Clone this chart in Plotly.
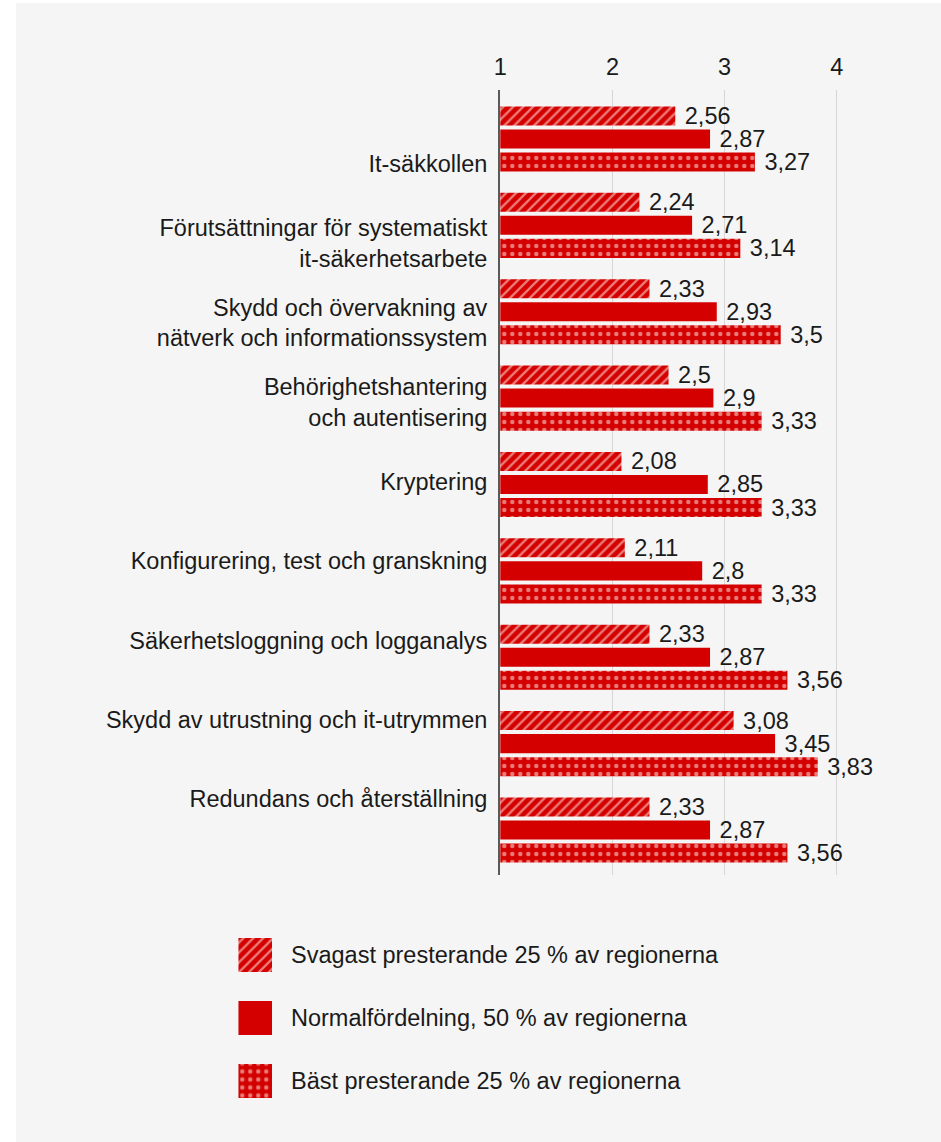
import plotly.graph_objects as go

# --- data -------------------------------------------------------------------
categories = [
    "It-säkkollen",
    "Förutsättningar för systematiskt<br>it-säkerhetsarbete",
    "Skydd och övervakning av<br>nätverk och informationssystem",
    "Behörighetshantering<br>och autentisering",
    "Kryptering",
    "Konfigurering, test och granskning",
    "Säkerhetsloggning och logganalys",
    "Skydd av utrustning och it-utrymmen",
    "Redundans och återställning",
]
weakest = [2.56, 2.24, 2.33, 2.5, 2.08, 2.11, 2.33, 3.08, 2.33]
normal = [2.87, 2.71, 2.93, 2.9, 2.85, 2.8, 2.87, 3.45, 2.87]
best = [3.27, 3.14, 3.5, 3.33, 3.33, 3.33, 3.56, 3.83, 3.56]
series_names = [
    "Svagast presterande 25 % av regionerna",
    "Normalfördelning, 50 % av regionerna",
    "Bäst presterande 25 % av regionerna",
]
x_ticks = [1, 2, 3, 4]

# --- styling ----------------------------------------------------------------
W, H = 941, 1142
RED = "#d40000"
INK = "#1a1a1a"
FONT = "Liberation Sans, Arial, sans-serif"
FS = 23.5


def dom_x(left, right):
    return [left / W, right / W]


def dom_y(top, bottom):
    return [1 - bottom / H, 1 - top / H]


def fmt(v):
    return "\u00a0" + f"{v:g}".replace(".", ",")


patterns = [
    dict(shape="/", fgcolor="#fff8f0", bgcolor=RED, size=7, solidity=0.33),
    dict(shape="", fgcolor=RED, bgcolor=RED),
    dict(shape=".", fgcolor="#fff8f0", bgcolor=RED, size=8, solidity=0.24),
]

fig = go.Figure()

for name, vals, pat in zip(series_names, [weakest, normal, best], patterns):
    fig.add_trace(go.Bar(
        y=categories, x=vals, orientation="h", name=name,
        marker=dict(color=RED, line_width=0, pattern=pat),
        text=[fmt(v) for v in vals], textposition="outside",
        constraintext="none",
        textfont=dict(size=FS, color=INK, family=FONT),
        showlegend=False, hoverinfo="x+y",
        xaxis="x", yaxis="y",
    ))

# category labels live on their own overlaid axis
fig.add_trace(go.Scatter(
    x=[None] * len(categories), y=categories, mode="markers",
    xaxis="x", yaxis="y3", showlegend=False, hoverinfo="skip",
))

# legend swatches drawn as bars on a small auxiliary axis
fig.add_trace(go.Bar(
    x=[1] * len(series_names), y=series_names, orientation="h",
    width=0.54,
    marker=dict(
        color=RED, line_width=0,
        pattern=dict(
            shape=[p["shape"] for p in patterns],
            fgcolor=[p["fgcolor"] for p in patterns],
            bgcolor=RED,
            size=[p.get("size", 7) for p in patterns],
            solidity=[p.get("solidity", 0.3) for p in patterns],
        ),
    ),
    xaxis="x2", yaxis="y2", showlegend=False, hoverinfo="skip",
))

fig.update_layout(
    width=W, height=H, autosize=False,
    margin=dict(l=0, r=0, t=0, b=0),
    paper_bgcolor="white",
    plot_bgcolor="rgba(0,0,0,0)",
    font=dict(family=FONT, size=FS, color=INK),
    barmode="group", bargap=0.2, bargroupgap=0.174,
    shapes=[dict(
        type="rect", xref="paper", yref="paper", layer="below",
        x0=9 / W, x1=1, y0=0, y1=1 - 3 / H,
        fillcolor="#f5f5f5", line_width=0,
    )],
    xaxis=dict(
        domain=dom_x(497, 497 + 3.45 * 113), range=[1, 4.45],
        side="top", tickmode="array", tickvals=x_ticks,
        showgrid=True, gridcolor="#d6d6d6", gridwidth=1,
        zeroline=False, showline=False, ticks="",
        tickfont=dict(size=FS, color=INK), ticklabelstandoff=9,
        fixedrange=True,
    ),
    yaxis=dict(
        domain=dom_y(90, 875), type="category",
        categoryorder="array", categoryarray=categories,
        range=[8.521, -0.567],
        showticklabels=False, showgrid=False, zeroline=False,
        showline=True, linecolor="#5a5a5a", linewidth=1.5, ticks="",
        fixedrange=True,
    ),
    yaxis3=dict(
        overlaying="y", anchor="x", side="left", type="category",
        categoryorder="array", categoryarray=categories,
        range=[8.955, -0.932],
        showgrid=False, zeroline=False, showline=False, ticks="",
        tickfont=dict(size=FS, color=INK), ticklabelstandoff=12,
        fixedrange=True,
    ),
    xaxis2=dict(
        domain=dom_x(233, 267), range=[0, 1], anchor="y2",
        visible=False, fixedrange=True,
    ),
    yaxis2=dict(
        domain=dom_y(923.5, 1112.5), anchor="x2", side="right",
        type="category", categoryorder="array", categoryarray=series_names,
        range=[2.5, -0.5],
        showgrid=False, zeroline=False, showline=False, ticks="",
        tickfont=dict(size=FS, color=INK), ticklabelstandoff=18,
        fixedrange=True,
    ),
)

fig.write_html("out.html")
